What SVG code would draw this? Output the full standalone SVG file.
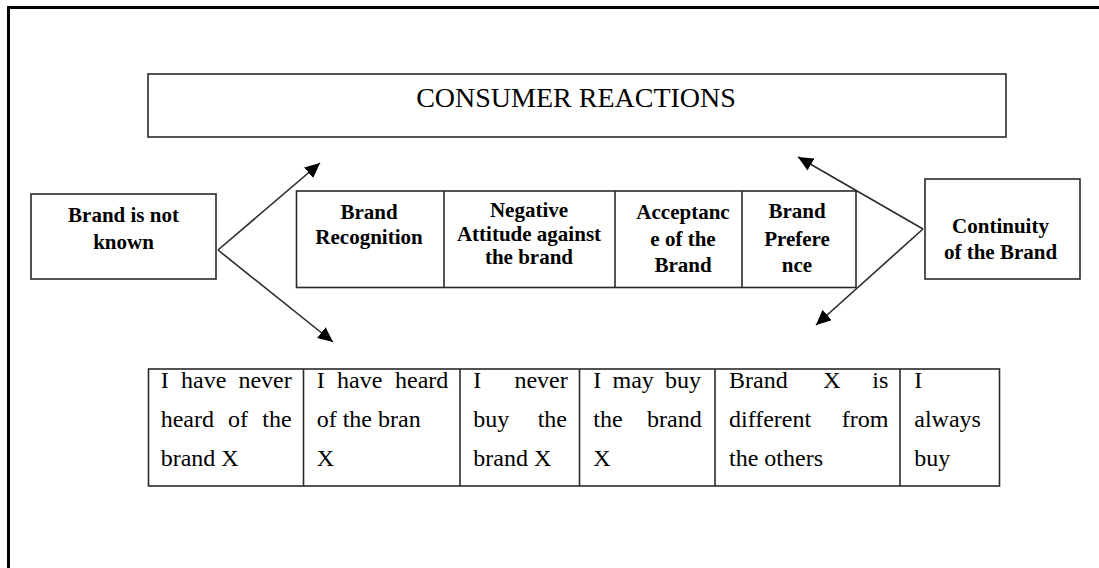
<svg xmlns="http://www.w3.org/2000/svg" width="1099" height="568" viewBox="0 0 1099 568">
<style>
.box{fill:#fff;stroke:#2a2a2a;stroke-width:1.6}
.b{font-family:"Liberation Serif",serif;font-weight:bold;font-size:21px;fill:#000;text-anchor:middle}
.t{font-family:"Liberation Serif",serif;font-size:24px;fill:#000}
.e{text-anchor:end}
.m{text-anchor:middle}
.conn{stroke:#2a2a2a;stroke-width:1.6;fill:none;marker-end:url(#ah)}
</style>
<defs>
<marker id="ah" markerUnits="userSpaceOnUse" markerWidth="16" markerHeight="14" refX="15" refY="7" orient="auto">
<path d="M0,0 L15,7 L0,14 Z" fill="#000"/>
</marker>
</defs>
<rect width="1099" height="568" fill="#fff"/>
<path d="M8.5,568 V7.5 H1099" fill="none" stroke="#000" stroke-width="3"/>

<g id="title">
<rect class="box" x="148" y="74" width="858" height="63"/>
<text x="576" y="107" font-family="Liberation Serif, serif" font-size="28" text-anchor="middle" fill="#000">CONSUMER REACTIONS</text>
</g>

<g id="brand-not-known">
<rect class="box" x="31" y="194" width="185" height="85"/>
<text class="b" x="123.5" y="222">Brand is not</text>
<text class="b" x="123.5" y="249">known</text>
</g>

<g id="stages">
<rect class="box" x="296.5" y="191" width="559.5" height="96.5"/>
<line x1="444" y1="191" x2="444" y2="287.5" stroke="#2a2a2a" stroke-width="1.6"/>
<line x1="615" y1="191" x2="615" y2="287.5" stroke="#2a2a2a" stroke-width="1.6"/>
<line x1="742" y1="191" x2="742" y2="287.5" stroke="#2a2a2a" stroke-width="1.6"/>
<text class="b" x="369" y="219">Brand</text>
<text class="b" x="369" y="244">Recognition</text>
<text class="b" x="529" y="217" font-size="19">Negative</text>
<text class="b" x="529" y="241" font-size="19">Attitude against</text>
<text class="b" x="529" y="264" font-size="19">the brand</text>
<text class="b" x="683" y="219">Acceptanc</text>
<text class="b" x="683" y="245.5">e of the</text>
<text class="b" x="683" y="271.5">Brand</text>
<text class="b" x="797" y="218">Brand</text>
<text class="b" x="797" y="246">Prefere</text>
<text class="b" x="797" y="272">nce</text>
</g>

<g id="continuity">
<rect class="box" x="925" y="179" width="155" height="100"/>
<text class="b" x="1000.5" y="233">Continuity</text>
<text class="b" x="1000.5" y="259">of the Brand</text>
</g>

<g id="statements">
<rect class="box" x="148.5" y="369" width="851" height="117"/>
<line x1="303.5" y1="369" x2="303.5" y2="486" stroke="#2a2a2a" stroke-width="1.6"/>
<line x1="460" y1="369" x2="460" y2="486" stroke="#2a2a2a" stroke-width="1.6"/>
<line x1="579.5" y1="369" x2="579.5" y2="486" stroke="#2a2a2a" stroke-width="1.6"/>
<line x1="715" y1="369" x2="715" y2="486" stroke="#2a2a2a" stroke-width="1.6"/>
<line x1="900" y1="369" x2="900" y2="486" stroke="#2a2a2a" stroke-width="1.6"/>
<text class="t" y="388"><tspan x="160.7">I</tspan><tspan x="181">have</tspan><tspan x="291.7" class="e">never</tspan></text>
<text class="t" y="427"><tspan x="160.7">heard</tspan><tspan x="228">of</tspan><tspan x="291.7" class="e">the</tspan></text>
<text class="t" x="160.7" y="466">brand X</text>
<text class="t" y="388"><tspan x="316.7">I</tspan><tspan x="337">have</tspan><tspan x="448.3" class="e">heard</tspan></text>
<text class="t" x="316.7" y="427">of the bran</text>
<text class="t" x="316.7" y="466">X</text>
<text class="t" y="388"><tspan x="473.3">I</tspan><tspan x="567.7" class="e">never</tspan></text>
<text class="t" y="427"><tspan x="473.3">buy</tspan><tspan x="567" class="e">the</tspan></text>
<text class="t" x="473.3" y="466">brand X</text>
<text class="t" y="388"><tspan x="593.3">I</tspan><tspan x="612.5">may</tspan><tspan x="701" class="e">buy</tspan></text>
<text class="t" y="427"><tspan x="593.3">the</tspan><tspan x="701.7" class="e">brand</tspan></text>
<text class="t" x="593.3" y="466">X</text>
<text class="t" y="388"><tspan x="729">Brand</tspan><tspan x="832" class="m">X</tspan><tspan x="888.3" class="e">is</tspan></text>
<text class="t" y="427"><tspan x="729">different</tspan><tspan x="888.3" class="e">from</tspan></text>
<text class="t" x="729" y="466">the others</text>
<text class="t" x="914.3" y="388">I</text>
<text class="t" x="914.3" y="427">always</text>
<text class="t" x="914.3" y="466">buy</text>
</g>

<g id="connectors">
<line class="conn" x1="218" y1="250" x2="320" y2="163"/>
<line class="conn" x1="218" y1="250" x2="333" y2="342"/>
<line class="conn" x1="923" y1="229" x2="798" y2="157"/>
<line class="conn" x1="923" y1="229" x2="816" y2="325"/>
</g>
</svg>
